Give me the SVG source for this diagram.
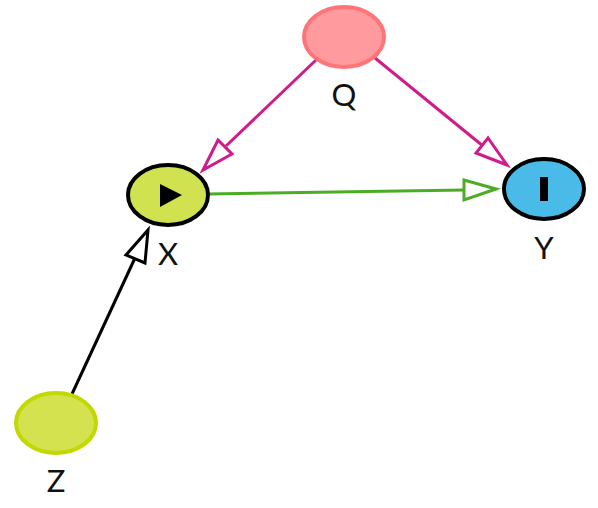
<svg xmlns="http://www.w3.org/2000/svg" width="598" height="508" viewBox="0 0 598 508">
<style>
.lbl{font-family:"Lato",sans-serif;font-size:31px;fill:#111;text-anchor:middle}
.edge{fill:none;stroke-width:3}
.head{fill:#fff;stroke-width:3;stroke-linejoin:miter}
.n{stroke-width:4}
</style>
<rect width="598" height="508" fill="#fff"/>
<g id="connectors">
<path class="edge" stroke="#d01c8b" d="M316 60L226 146"/>
<polygon class="head" stroke="#d01c8b" points="203,170 218,140 232,154"/>
<path class="edge" stroke="#d01c8b" d="M375 58L483 146"/>
<polygon class="head" stroke="#d01c8b" points="507,165 476,153 488,138"/>
<path class="edge" stroke="#4dac26" d="M208 194L464 190"/>
<polygon class="head" stroke="#4dac26" points="496,189 464,200 464,180"/>
<path class="edge" stroke="#000" d="M72 394L135 258"/>
<polygon class="head" stroke="#000" points="148,230 145,263 126,255"/>
</g>
<g id="node-Q">
<ellipse class="n" cx="344" cy="37" rx="40" ry="30" fill="#ff9a9f" stroke="#ff7478"/>
<text class="lbl" x="344" y="106">Q</text>
</g>
<g id="node-X">
<ellipse class="n" cx="168" cy="195" rx="40" ry="30" fill="#d0e24f" stroke="#000"/>
<polygon points="160,184 182,195 160,207" fill="#000"/>
<text class="lbl" x="168" y="265">X</text>
</g>
<g id="node-Y">
<ellipse class="n" cx="544" cy="189" rx="40" ry="30" fill="#4abbe8" stroke="#000"/>
<rect x="540" y="177" width="8" height="24" fill="#000"/>
<text class="lbl" x="544" y="259">Y</text>
</g>
<g id="node-Z">
<ellipse class="n" cx="56" cy="423" rx="40" ry="30" fill="#d4e24f" stroke="#c3d800"/>
<text class="lbl" x="56" y="492">Z</text>
</g>
</svg>
